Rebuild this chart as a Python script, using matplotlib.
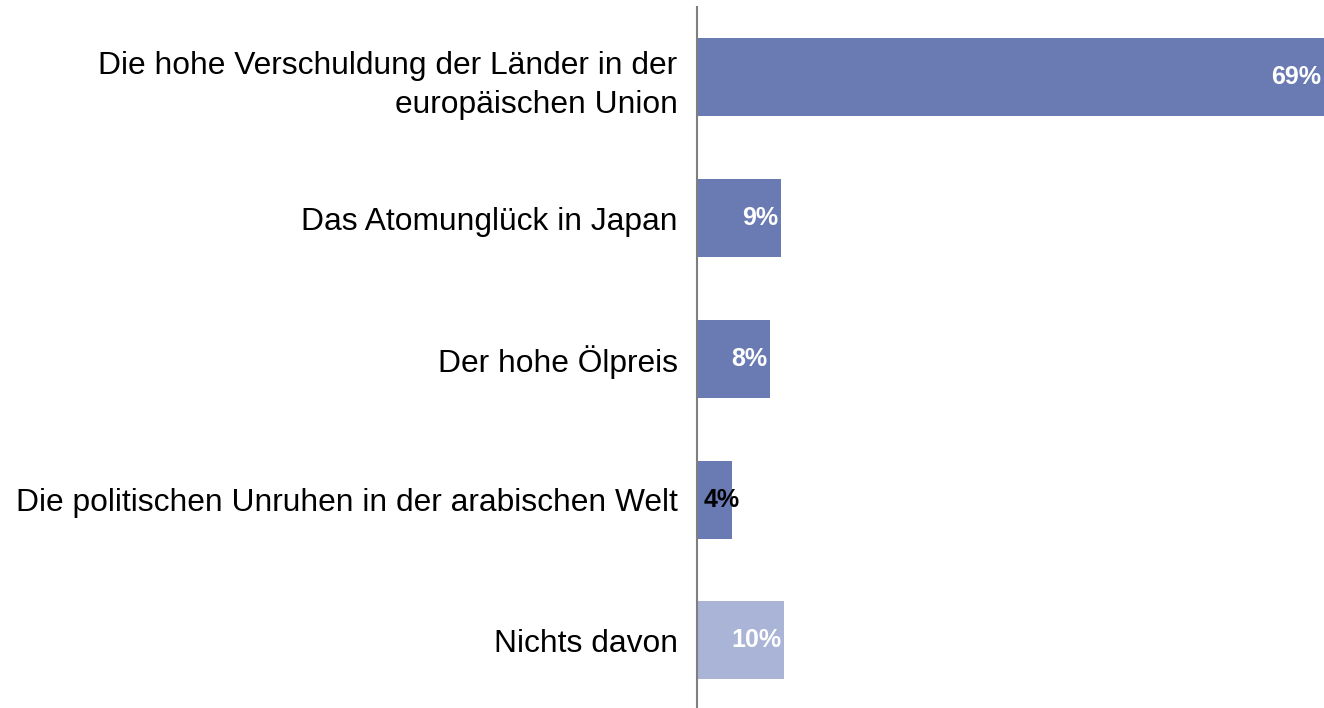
import matplotlib
matplotlib.use("Agg")
import matplotlib.pyplot as plt

categories = [
    "Die hohe Verschuldung der Länder in der\neuropäischen Union",
    "Das Atomunglück in Japan",
    "Der hohe Ölpreis",
    "Die politischen Unruhen in der arabischen Welt",
    "Nichts davon",
]
values = [69, 9.2, 8.0, 3.9, 9.6]
value_labels = ["69%", "9%", "8%", "4%", "10%"]
bar_colors = ["#6a7bb4", "#6a7bb4", "#6a7bb4", "#6a7bb4", "#a9b4d6"]
label_colors = ["white", "white", "white", "black", "white"]

plt.rcParams['font.family'] = ['Liberation Sans', 'DejaVu Sans']

W, H = 1324, 708
fig = plt.figure(figsize=(W / 100, H / 100), dpi=100)
ax = fig.add_axes([697 / W, 0, 1 - 697 / W, (708 - 7) / H])

ypos = list(range(len(categories)))
ax.barh(ypos, values, height=0.555, color=bar_colors, zorder=2)
ax.set_xlim(0, 69)
ax.set_ylim(4.48, -0.5)

for sp in ["top", "right", "bottom"]:
    ax.spines[sp].set_visible(False)
ax.spines["left"].set_color("#7f7f7f")
ax.spines["left"].set_linewidth(1.5)
ax.spines["left"].set_zorder(3)
ax.set_xticks([])
ax.set_yticks(ypos)
ax.set_yticklabels(categories, fontsize=22.9, ha="right", multialignment="right",
                   linespacing=1.38)
ax.tick_params(axis="y", length=0, pad=14)

for y, v, lab, c in zip(ypos, values, value_labels, label_colors):
    if v < 6:
        ax.annotate(lab, xy=(0, y), xytext=(5, 0), textcoords="offset points",
                    ha="left", va="center", fontsize=18, fontweight="bold", color=c, zorder=4)
    else:
        ax.annotate(lab, xy=(v, y), xytext=(-2, 0), textcoords="offset points",
                    ha="right", va="center", fontsize=18, fontweight="bold", color=c, zorder=4)

fig.savefig("out.png", dpi=100)
